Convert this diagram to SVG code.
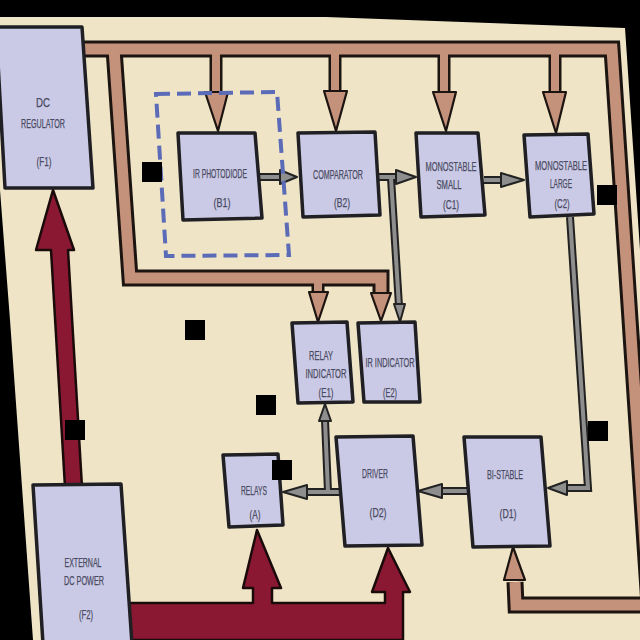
<svg xmlns="http://www.w3.org/2000/svg" width="640" height="640" viewBox="0 0 640 640">
<style>
.box{fill:#cbcae6;stroke:#1f1f24;stroke-width:3.5;stroke-linejoin:round}
.t{font-family:"Liberation Sans",Arial,sans-serif;font-size:12px;fill:#4a4a62;stroke:#4a4a62;stroke-width:0.25;text-anchor:middle}
.bu{fill:none;stroke:#1c1410;stroke-width:17;stroke-linejoin:miter}
.bo{fill:none;stroke:#c4917a;stroke-width:11;stroke-linejoin:miter}
.su{fill:none;stroke:#1c1410;stroke-width:13}
.so{fill:none;stroke:#c4917a;stroke-width:8}
.bh{fill:#c4917a;stroke:#1c1410;stroke-width:2.2;stroke-linejoin:round}
.gu{fill:none;stroke:#222;stroke-width:8}
.go{fill:none;stroke:#8e8e8e;stroke-width:4}
.gh{fill:#8e8e8e;stroke:#222;stroke-width:2;stroke-linejoin:round}
.red{fill:#8b1832;stroke:#1a0a0a;stroke-width:2.5;stroke-linejoin:round}
.dash{fill:none;stroke:#5b6bb8;stroke-width:4;stroke-dasharray:14 7}
.blk{fill:#000}
</style>
<defs>
<path id="bus1" d="M84,49 L612,49 L649,605 L516,605 L515,582"/>
<path id="bus2" d="M114,49 L130,278 L381,278 L381,294"/>
<path id="bus3" d="M318,278 L318,293"/>
<path id="d1" d="M216,49 L216,93"/>
<path id="d2" d="M335,49 L335,92"/>
<path id="d3" d="M444,49 L444,93"/>
<path id="d4" d="M555,49 L555,93"/>
</defs>
<rect width="640" height="640" fill="#000"/>
<polygon points="0,17 326,17 625,28 640,250 640,640 33,640 10,320 0,190" fill="#efe5c6"/>
<g id="connectors">
<use href="#bus1" class="bu"/><use href="#bus2" class="bu"/><use href="#bus3" class="su"/>
<use href="#d1" class="su"/><use href="#d2" class="su"/><use href="#d3" class="su"/><use href="#d4" class="su"/>
<use href="#bus1" class="bo"/><use href="#bus2" class="bo"/><use href="#bus3" class="so"/>
<use href="#d1" class="so"/><use href="#d2" class="so"/><use href="#d3" class="so"/><use href="#d4" class="so"/>
<polygon class="bh" points="205,92 228,92 218,131"/>
<polygon class="bh" points="324,91 347,91 336,131"/>
<polygon class="bh" points="433,92 456,92 446,131"/>
<polygon class="bh" points="543,92 566,92 556,133"/>
<polygon class="bh" points="309,292 328,292 318,322"/>
<polygon class="bh" points="371,293 391,293 381,321"/>
<polygon class="bh" points="504,580 525,580 513,547"/>
<path class="gu" d="M258,177 L282,177 M377,177 L398,177 M484,180 L503,180 M391,178 L399,306 M570,217 L588,488 L566,488 M467,491 L441,491 M341,492 L305,492 M328,492 L325,420"/>
<path class="go" d="M258,177 L282,177 M377,177 L398,177 M484,180 L503,180 M391,178 L399,306 M570,217 L588,488 L566,488 M467,491 L441,491 M341,492 L305,492 M328,492 L325,420"/>
<polygon class="gh" points="280,170 297,177 280,184"/>
<polygon class="gh" points="396,170 416,177 396,184"/>
<polygon class="gh" points="501,173 524,180 501,187"/>
<polygon class="gh" points="394,304 405,304 400,322"/>
<polygon class="gh" points="567,481 548,488 567,495"/>
<polygon class="gh" points="442,484 418,491 442,498"/>
<polygon class="gh" points="307,485 283,492 307,499"/>
<polygon class="gh" points="319,421 325,404 331,421"/>
<polygon class="red" points="51,250 36,250 53,190 74,250 68,250 82,487 65,487"/>
<polygon class="red" points="128,603 253,603 253,588 243,588 257,530 281,588 272,588 272,603 385,603 385,592 372,592 388,548 410,592 403,592 403,640 128,640"/>
</g>
<polygon class="dash" points="156,94 277,92 289,255 166,256"/>
<g id="F1"><polygon class="box" points="-4,27 82,27 93,188 5,188"/>
<text class="t" x="43" y="107" textLength="14" lengthAdjust="spacingAndGlyphs">DC</text>
<text class="t" x="43" y="128" textLength="44" lengthAdjust="spacingAndGlyphs">REGULATOR</text>
<text class="t" x="44" y="166" textLength="15" lengthAdjust="spacingAndGlyphs">(F1)</text></g>
<g id="B1"><polygon class="box" points="178,133 255,133 262,218 183,220"/>
<text class="t" x="220" y="178" textLength="54" lengthAdjust="spacingAndGlyphs">IR PHOTODIODE</text>
<text class="t" x="222" y="207" textLength="17" lengthAdjust="spacingAndGlyphs">(B1)</text></g>
<g id="B2"><polygon class="box" points="298,133 375,132 380,215 303,217"/>
<text class="t" x="338" y="179" textLength="50" lengthAdjust="spacingAndGlyphs">COMPARATOR</text>
<text class="t" x="342" y="207" textLength="16" lengthAdjust="spacingAndGlyphs">(B2)</text></g>
<g id="C1"><polygon class="box" points="416,133 478,133 485,215 421,217"/>
<text class="t" x="451" y="171" textLength="51" lengthAdjust="spacingAndGlyphs">MONOSTABLE</text>
<text class="t" x="449" y="189" textLength="25" lengthAdjust="spacingAndGlyphs">SMALL</text>
<text class="t" x="451" y="209" textLength="16" lengthAdjust="spacingAndGlyphs">(C1)</text></g>
<g id="C2"><polygon class="box" points="524,135 588,134 594,214 530,217"/>
<text class="t" x="561" y="170" textLength="52" lengthAdjust="spacingAndGlyphs">MONOSTABLE</text>
<text class="t" x="561" y="188" textLength="22" lengthAdjust="spacingAndGlyphs">LARGE</text>
<text class="t" x="562" y="208" textLength="15" lengthAdjust="spacingAndGlyphs">(C2)</text></g>
<g id="E1"><polygon class="box" points="292,323 347,322 353,402 298,403"/>
<text class="t" x="321" y="360" textLength="24" lengthAdjust="spacingAndGlyphs">RELAY</text>
<text class="t" x="326" y="378" textLength="41" lengthAdjust="spacingAndGlyphs">INDICATOR</text>
<text class="t" x="326" y="397" textLength="15" lengthAdjust="spacingAndGlyphs">(E1)</text></g>
<g id="E2"><polygon class="box" points="358,323 415,322 420,402 364,402"/>
<text class="t" x="390" y="367" textLength="49" lengthAdjust="spacingAndGlyphs">IR INDICATOR</text>
<text class="t" x="390" y="397" textLength="14" lengthAdjust="spacingAndGlyphs">(E2)</text></g>
<g id="D2"><polygon class="box" points="336,437 413,436 422,545 345,546"/>
<text class="t" x="375" y="478" textLength="26" lengthAdjust="spacingAndGlyphs">DRIVER</text>
<text class="t" x="378" y="517" textLength="17" lengthAdjust="spacingAndGlyphs">(D2)</text></g>
<g id="D1"><polygon class="box" points="464,437 541,437 550,546 473,547"/>
<text class="t" x="505" y="479" textLength="36" lengthAdjust="spacingAndGlyphs">BI-STABLE</text>
<text class="t" x="508" y="518" textLength="17" lengthAdjust="spacingAndGlyphs">(D1)</text></g>
<g id="A"><polygon class="box" points="223,455 278,454 283,525 229,527"/>
<text class="t" x="254" y="495" textLength="26" lengthAdjust="spacingAndGlyphs">RELAYS</text>
<text class="t" x="255" y="519" textLength="11" lengthAdjust="spacingAndGlyphs">(A)</text></g>
<g id="F2"><polygon class="box" points="33,485 121,484 132,644 43,644"/>
<text class="t" x="83" y="567" textLength="37" lengthAdjust="spacingAndGlyphs">EXTERNAL</text>
<text class="t" x="84" y="585" textLength="40" lengthAdjust="spacingAndGlyphs">DC POWER</text>
<text class="t" x="86" y="619" textLength="14" lengthAdjust="spacingAndGlyphs">(F2)</text></g>
<rect class="blk" x="142" y="162" width="20" height="20"/>
<rect class="blk" x="597" y="185" width="20" height="20"/>
<rect class="blk" x="185" y="320" width="20" height="20"/>
<rect class="blk" x="256" y="395" width="20" height="20"/>
<rect class="blk" x="65" y="420" width="20" height="20"/>
<rect class="blk" x="272" y="460" width="20" height="20"/>
<rect class="blk" x="588" y="421" width="20" height="20"/>
</svg>
